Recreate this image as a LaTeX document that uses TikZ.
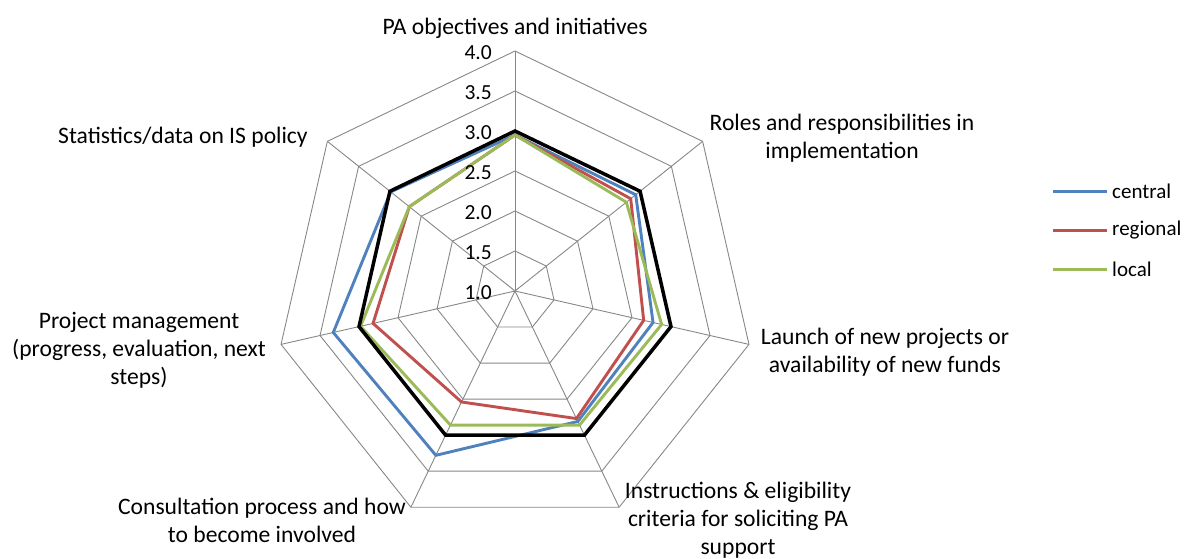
\documentclass[tikz,border=0pt]{standalone}
\usepackage{fontspec}
\setmainfont{Carlito}
\definecolor{central}{HTML}{4F81BD}
\definecolor{regional}{HTML}{C0504D}
\definecolor{local}{HTML}{9BBB59}
\definecolor{gridgray}{HTML}{878787}
\begin{document}
\begin{tikzpicture}[x=1pt,y=1pt,
  gridline/.style={draw=gridgray, line width=0.9pt},
  series/.style={line width=2.9pt, line join=miter},
  total/.style={line width=3.5pt, line join=miter, draw=black},
  catlabel/.style={font=\fontsize{23.6}{28}\selectfont, align=center, inner sep=0pt},
  ticklabel/.style={font=\fontsize{21.5}{25}\selectfont, anchor=east, inner sep=0pt},
  legline/.style={line width=3pt},
  legtext/.style={font=\fontsize{21}{25}\selectfont, anchor=west, inner sep=0pt}]
\useasboundingbox (0,0) rectangle (1193,558);
\coordinate (C) at (515,267);
\begin{scope}[shift={(C)}]
  % grid polygons
  \foreach \r in {40,80,120,160,200,240} {
    \draw[gridline] (90:\r) \foreach \k in {1,...,6} { -- ({90-\k*360/7}:\r) } -- cycle;
  }
  % spokes
  \foreach \k in {0,...,6} {
    \coordinate (spoke\k) at ({90-\k*360/7}:240);
    \draw[gridline] (0,0) -- (spoke\k);
  }
  % series
  \draw[series, draw=central] (90:156) -- (38.5714:154.4) -- (-12.8571:141.6) -- (-64.2857:144.8) -- (-115.7143:182.4) -- (-167.1429:186.4) -- (141.4286:159) -- cycle;
  \draw[series, draw=regional] (90:156) -- (38.5714:148) -- (-12.8571:132) -- (-64.2857:141.6) -- (-115.7143:123.2) -- (-167.1429:145.6) -- (141.4286:135.2) -- cycle;
  \draw[series, draw=local] (90:156) -- (38.5714:142.4) -- (-12.8571:150.4) -- (-64.2857:148.8) -- (-115.7143:148.8) -- (-167.1429:158.4) -- (141.4286:135.2) -- cycle;
  \draw[total] (90:160) -- (38.5714:160) -- (-12.8571:160) -- (-64.2857:160) -- (-115.7143:160) -- (-167.1429:160) -- (141.4286:160) -- cycle;
  % tick labels
  \node[ticklabel] (t10) at (-23,-2) {1.0};
  \node[ticklabel] (t15) at (-23,38) {1.5};
  \node[ticklabel] (t20) at (-23,78) {2.0};
  \node[ticklabel] (t25) at (-23,118) {2.5};
  \node[ticklabel] (t30) at (-23,158) {3.0};
  \node[ticklabel] (t35) at (-23,198) {3.5};
  \node[ticklabel] (t40) at (-23,238) {4.0};
\end{scope}
% category labels
\node[catlabel] (lab1) at (515,530) {PA objectives and initiatives};
\node[catlabel] (lab2) at (842,420) {Roles and responsibilities in\\implementation};
\node[catlabel] (lab3) at (885,206) {Launch of new projects or\\availability of new funds};
\node[catlabel] (lab4) at (738,38) {Instructions \& eligibility\\criteria for soliciting PA\\support};
\node[catlabel] (lab5) at (262,38) {Consultation process and how\\to become involved};
\node[catlabel] (lab6) at (139,208) {Project management\\(progress, evaluation, next\\steps)};
\node[catlabel] (lab7) at (183,421) {Statistics/data on IS policy};
% legend
\coordinate (lca) at (1053,367); \coordinate (lcb) at (1107,367);
\coordinate (lra) at (1053,328); \coordinate (lrb) at (1107,328);
\coordinate (lla) at (1053,289); \coordinate (llb) at (1107,289);
\draw[legline, draw=central] (lca) -- (lcb);
\draw[legline, draw=regional] (lra) -- (lrb);
\draw[legline, draw=local] (lla) -- (llb);
\node[legtext] (legc) at (1112,367) {central};
\node[legtext] (legr) at (1112,328) {regional};
\node[legtext] (legl) at (1112,289) {local};
\end{tikzpicture}
\end{document}
